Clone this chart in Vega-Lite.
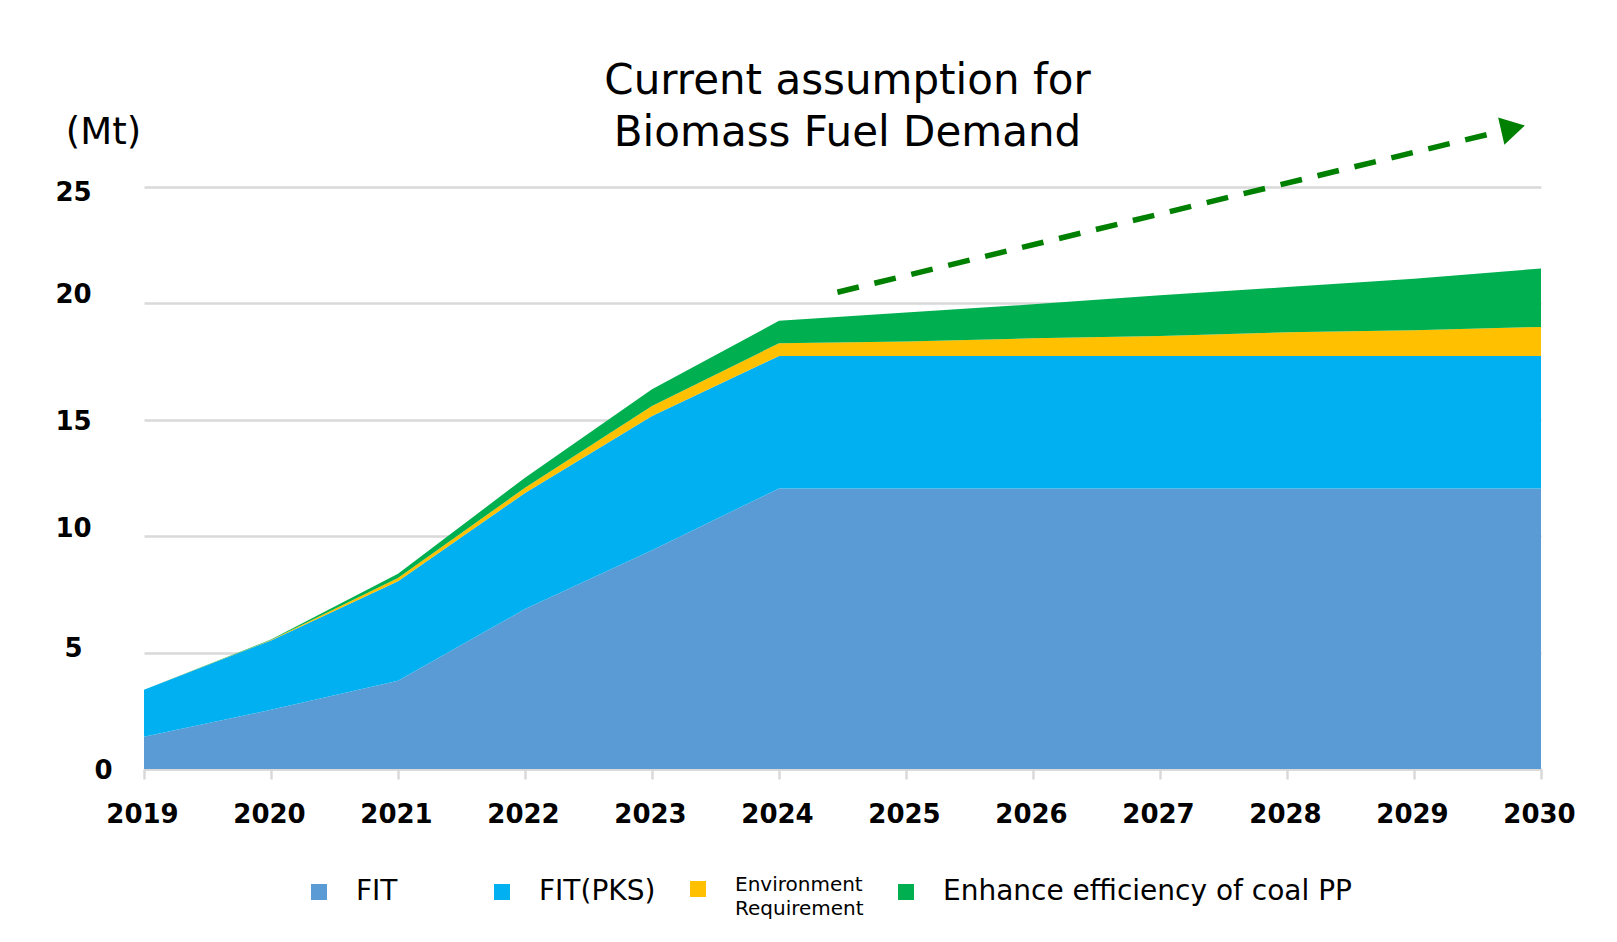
{
  "$schema": "https://vega.github.io/schema/vega-lite/v6.json",
  "width": 1397,
  "height": 582,
  "autosize": {"type": "none"},
  "padding": {"left": 144, "top": 187, "right": 76, "bottom": 173},
  "background": "white",
  "config": {"font": "DejaVu Sans", "view": {"stroke": null}},
  "title": {
    "text": ["Current assumption for", "Biomass Fuel Demand"],
    "fontSize": 42,
    "fontWeight": "normal",
    "color": "#000000",
    "anchor": "middle",
    "frame": "group",
    "lineHeight": 52,
    "offset": -42,
    "dx": 5
  },
  "layer": [
    {
      "data": {
        "values": [
          {"year": 2019, "source": "FIT", "rank": 1, "value": 1.38},
          {"year": 2019, "source": "FIT(PKS)", "rank": 2, "value": 2.02},
          {"year": 2019, "source": "Environment Requirement", "rank": 3, "value": 0},
          {"year": 2019, "source": "Enhance efficiency of coal PP", "rank": 4, "value": 0},
          {"year": 2020, "source": "FIT", "rank": 1, "value": 2.54},
          {"year": 2020, "source": "FIT(PKS)", "rank": 2, "value": 2.98},
          {"year": 2020, "source": "Environment Requirement", "rank": 3, "value": 0.02},
          {"year": 2020, "source": "Enhance efficiency of coal PP", "rank": 4, "value": 0.02},
          {"year": 2021, "source": "FIT", "rank": 1, "value": 3.79},
          {"year": 2021, "source": "FIT(PKS)", "rank": 2, "value": 4.27},
          {"year": 2021, "source": "Environment Requirement", "rank": 3, "value": 0.14},
          {"year": 2021, "source": "Enhance efficiency of coal PP", "rank": 4, "value": 0.19},
          {"year": 2022, "source": "FIT", "rank": 1, "value": 6.87},
          {"year": 2022, "source": "FIT(PKS)", "rank": 2, "value": 4.99},
          {"year": 2022, "source": "Environment Requirement", "rank": 3, "value": 0.22},
          {"year": 2022, "source": "Enhance efficiency of coal PP", "rank": 4, "value": 0.43},
          {"year": 2023, "source": "FIT", "rank": 1, "value": 9.4},
          {"year": 2023, "source": "FIT(PKS)", "rank": 2, "value": 5.76},
          {"year": 2023, "source": "Environment Requirement", "rank": 3, "value": 0.43},
          {"year": 2023, "source": "Enhance efficiency of coal PP", "rank": 4, "value": 0.72},
          {"year": 2024, "source": "FIT", "rank": 1, "value": 12.05},
          {"year": 2024, "source": "FIT(PKS)", "rank": 2, "value": 5.69},
          {"year": 2024, "source": "Environment Requirement", "rank": 3, "value": 0.55},
          {"year": 2024, "source": "Enhance efficiency of coal PP", "rank": 4, "value": 0.96},
          {"year": 2025, "source": "FIT", "rank": 1, "value": 12.05},
          {"year": 2025, "source": "FIT(PKS)", "rank": 2, "value": 5.69},
          {"year": 2025, "source": "Environment Requirement", "rank": 3, "value": 0.62},
          {"year": 2025, "source": "Enhance efficiency of coal PP", "rank": 4, "value": 1.25},
          {"year": 2026, "source": "FIT", "rank": 1, "value": 12.05},
          {"year": 2026, "source": "FIT(PKS)", "rank": 2, "value": 5.69},
          {"year": 2026, "source": "Environment Requirement", "rank": 3, "value": 0.76},
          {"year": 2026, "source": "Enhance efficiency of coal PP", "rank": 4, "value": 1.46},
          {"year": 2027, "source": "FIT", "rank": 1, "value": 12.05},
          {"year": 2027, "source": "FIT(PKS)", "rank": 2, "value": 5.69},
          {"year": 2027, "source": "Environment Requirement", "rank": 3, "value": 0.86},
          {"year": 2027, "source": "Enhance efficiency of coal PP", "rank": 4, "value": 1.75},
          {"year": 2028, "source": "FIT", "rank": 1, "value": 12.05},
          {"year": 2028, "source": "FIT(PKS)", "rank": 2, "value": 5.69},
          {"year": 2028, "source": "Environment Requirement", "rank": 3, "value": 1.02},
          {"year": 2028, "source": "Enhance efficiency of coal PP", "rank": 4, "value": 1.94},
          {"year": 2029, "source": "FIT", "rank": 1, "value": 12.05},
          {"year": 2029, "source": "FIT(PKS)", "rank": 2, "value": 5.69},
          {"year": 2029, "source": "Environment Requirement", "rank": 3, "value": 1.11},
          {"year": 2029, "source": "Enhance efficiency of coal PP", "rank": 4, "value": 2.21},
          {"year": 2030, "source": "FIT", "rank": 1, "value": 12.05},
          {"year": 2030, "source": "FIT(PKS)", "rank": 2, "value": 5.69},
          {"year": 2030, "source": "Environment Requirement", "rank": 3, "value": 1.25},
          {"year": 2030, "source": "Enhance efficiency of coal PP", "rank": 4, "value": 2.51}
        ]
      },
      "mark": {"type": "area", "interpolate": "linear"},
      "encoding": {
        "x": {
          "field": "year",
          "type": "quantitative",
          "scale": {"domain": [2019, 2030], "nice": false, "zero": false},
          "axis": {
            "title": null,
            "values": [2019, 2020, 2021, 2022, 2023, 2024, 2025, 2026, 2027, 2028, 2029, 2030],
            "format": "d",
            "labelFontSize": 26,
            "labelFontWeight": "bold",
            "labelColor": "#000000",
            "labelFlush": false,
            "labelPadding": 22,
            "labelOffset": -2,
            "grid": false,
            "domain": true,
            "domainColor": "#D9D9D9",
            "domainWidth": 2.5,
            "ticks": true,
            "tickColor": "#D9D9D9",
            "tickWidth": 2.5,
            "tickSize": 10
          }
        },
        "y": {
          "field": "value",
          "type": "quantitative",
          "stack": "zero",
          "scale": {"domain": [0, 25], "nice": false},
          "axis": {
            "title": "(Mt)",
            "titleAngle": 0,
            "titleX": -41,
            "titleY": -55,
            "titleAlign": "center",
            "titleBaseline": "middle",
            "titleFontSize": 37,
            "titleFontWeight": "normal",
            "titleColor": "#000000",
            "values": [0, 5, 10, 15, 20, 25],
            "labelFontSize": 26,
            "labelFontWeight": "bold",
            "labelColor": "#000000",
            "labelAlign": "center",
            "labelPadding": {"condition": {"test": "datum.value == 0", "value": 41}, "value": 71},
            "labelOffset": {
              "condition": [
                {"test": "datum.value == 25", "value": 5},
                {"test": "datum.value == 20", "value": -8.5},
                {"test": "datum.value == 15", "value": 2},
                {"test": "datum.value == 10", "value": -8},
                {"test": "datum.value == 5", "value": -4}
              ],
              "value": 1
            },
            "ticks": false,
            "domain": false,
            "grid": true,
            "gridColor": "#D9D9D9",
            "gridWidth": 2.5
          }
        },
        "color": {
          "field": "source",
          "type": "nominal",
          "sort": ["FIT", "FIT(PKS)", "Environment Requirement", "Enhance efficiency of coal PP"],
          "scale": {
            "domain": ["FIT", "FIT(PKS)", "Environment Requirement", "Enhance efficiency of coal PP"],
            "range": ["#5B9BD5", "#00B0F0", "#FFC000", "#00B050"]
          },
          "legend": {
            "orient": "none",
            "legendX": 161,
            "legendY": 688,
            "direction": "horizontal",
            "title": null,
            "padding": 0,
            "symbolType": "square",
            "symbolSize": 256,
            "symbolStrokeWidth": 0,
            "labelFontSize": 28,
            "labelColor": "#000000",
            "labelOffset": 23,
            "columnPadding": 28,
            "labelLimit": 800,
            "labelExpr": "datum.label == 'FIT' ? ['FIT       \u200B', ''] : (datum.label == 'Environment Requirement' ? ['Environment', 'Requirement'] : [datum.label, ''])",
            "encode": {
              "labels": {
                "update": {
                  "fontSize": {"signal": "datum.value == 'Environment Requirement' ? 20 : 28"},
                  "lineHeight": {"signal": "datum.value == 'Environment Requirement' ? 24 : 10"},
                  "dy": {"signal": "datum.value == 'Environment Requirement' ? -4 : 0"}
                }
              }
            }
          }
        },
        "order": {"field": "rank", "type": "quantitative"}
      }
    },
    {
      "data": {"values": [{"x": 2024.46, "y": 20.48, "x2": 2029.68, "y2": 27.39}]},
      "mark": {"type": "rule", "color": "#008000", "strokeWidth": 5.5, "strokeDash": [22, 16], "strokeCap": "butt"},
      "encoding": {
        "x": {"field": "x", "type": "quantitative", "scale": {"domain": [2019, 2030], "nice": false, "zero": false}},
        "y": {"field": "y", "type": "quantitative", "scale": {"domain": [0, 25], "nice": false}},
        "x2": {"field": "x2"},
        "y2": {"field": "y2"}
      }
    },
    {
      "data": {"values": [{"x": 2029.78, "y": 27.52}]},
      "mark": {"type": "point", "shape": "triangle-right", "filled": true, "color": "#008000", "opacity": 1, "size": 780, "angle": -13},
      "encoding": {
        "x": {"field": "x", "type": "quantitative", "scale": {"domain": [2019, 2030], "nice": false, "zero": false}},
        "y": {"field": "y", "type": "quantitative", "scale": {"domain": [0, 25], "nice": false}}
      }
    }
  ]
}
